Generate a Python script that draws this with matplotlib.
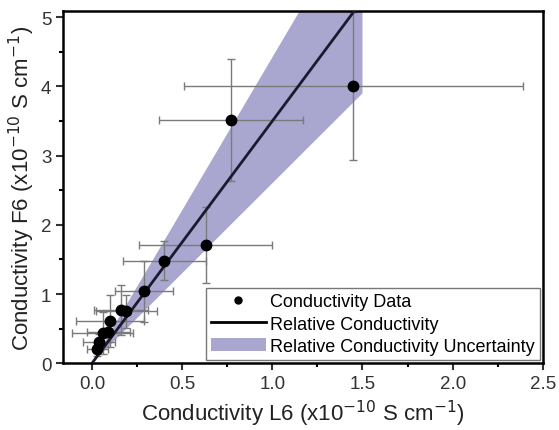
import numpy as np
import matplotlib
matplotlib.use('Agg')
import matplotlib.pyplot as plt
from matplotlib.lines import Line2D
from matplotlib.patches import Patch

plt.rcParams['font.family'] = ['Liberation Sans', 'DejaVu Sans']
plt.rcParams['mathtext.default'] = 'regular'

# Conductivity data (x10^-10 S cm^-1)
cond_l6 = [0.03, 0.04, 0.06, 0.09, 0.10, 0.16, 0.19, 0.29, 0.40, 0.63, 0.77, 1.45]
cond_f6 = [0.20, 0.30, 0.44, 0.45, 0.61, 0.77, 0.75, 1.04, 1.48, 1.71, 3.52, 4.00]
err_l6 = [0.06, 0.09, 0.17, 0.12, 0.19, 0.15, 0.17, 0.16, 0.23, 0.37, 0.40, 0.94]
err_f6 = [0.10, 0.12, 0.30, 0.15, 0.38, 0.36, 0.24, 0.44, 0.28, 0.55, 0.88, 1.07]

# relative conductivity fit and its uncertainty band
fit_x = [0.0, 1.5]
fit_slope = 3.5
slope_low = 2.6
slope_high = 4.42

fit_x = np.array(fit_x)

fig = plt.figure(figsize=(5.59, 4.31), dpi=100)
ax = fig.add_axes([0.113, 0.155, 0.858, 0.817])

ax.fill_between(fit_x, slope_low * fit_x, slope_high * fit_x,
                color='#a9a7d0', linewidth=0, zorder=1)
ax.errorbar(cond_l6, cond_f6, xerr=err_l6, yerr=err_f6, fmt='none',
            ecolor='#7a7a7a', elinewidth=1, capsize=3, capthick=1, zorder=2)
ax.plot(fit_x, fit_slope * fit_x, color='#1c1a2e', linewidth=2, zorder=3)
ax.plot(cond_l6, cond_f6, 'o', color='black', markersize=7.5, zorder=4)

ax.set_xlim(-0.16, 2.5)
ax.set_ylim(0, 5.09)
ax.set_xticks(np.arange(0, 2.51, 0.5))
ax.set_xticks(np.arange(0, 2.51, 0.25), minor=True)
ax.set_yticks(np.arange(0, 5.1, 1))
ax.set_yticks(np.arange(0, 5.1, 0.5), minor=True)
ax.set_xticklabels(['0.0', '0.5', '1.0', '1.5', '2.0', '2.5'])
ax.tick_params(axis='both', which='major', direction='out', length=5, width=1.5,
               labelsize=13.5, colors='#333333')
ax.tick_params(axis='both', which='minor', direction='out', length=3, width=1.5)
for sp in ax.spines.values():
    sp.set_linewidth(1.8)

ax.set_xlabel('Conductivity L6 (x10$^{\\mathrm{-10}}$ S cm$^{\\mathrm{-1}}$)', fontsize=16,
              color='#222222', labelpad=4)
ax.set_ylabel('Conductivity F6 (x10$^{\\mathrm{-10}}$ S cm$^{\\mathrm{-1}}$)', fontsize=16,
              color='#222222', labelpad=3)

handles = [Line2D([], [], marker='o', color='black', linestyle='none', markersize=5),
           Line2D([], [], color='black', linewidth=2),
           Patch(facecolor='#a9a7d0', edgecolor='none')]
labels = ['Conductivity Data', 'Relative Conductivity', 'Relative Conductivity Uncertainty']
leg = ax.legend(handles, labels, loc='lower right', fontsize=13, frameon=True, fancybox=False,
                edgecolor='#555555', handlelength=3, handletextpad=0.25, labelspacing=0.3,
                borderpad=0.3, borderaxespad=0.15)
leg.get_frame().set_linewidth(1)

fig.savefig('out.png', dpi=100)
